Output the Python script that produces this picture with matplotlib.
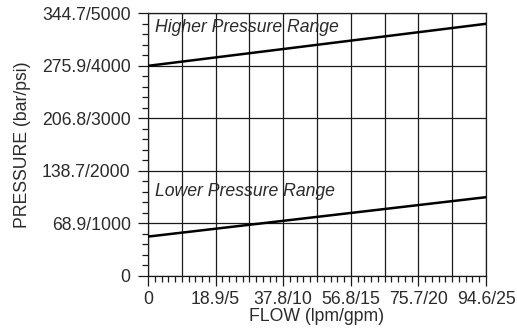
import matplotlib
matplotlib.use("Agg")
import matplotlib.pyplot as plt
import numpy as np

# Data (flow in gpm, pressure in psi)
flow_gpm = [0, 25]
higher_psi = [4000, 4800]
lower_psi = [750, 1500]

x_ticks = [0, 5, 10, 15, 20, 25]
x_ticklabels = ["0", "18.9/5", "37.8/10", "56.8/15", "75.7/20", "94.6/25"]
y_ticks = [0, 1000, 2000, 3000, 4000, 5000]
y_ticklabels = ["0", "68.9/1000", "138.7/2000", "206.8/3000", "275.9/4000", "344.7/5000"]

plt.rcParams['font.family'] = ['Liberation Sans', 'DejaVu Sans']
txt = '#2b2b2b'

fig = plt.figure(figsize=(5.17, 3.33), dpi=100)
ax = fig.add_axes([148/517, 1-276/333, (486-148)/517, (276-13.3)/333])

ax.set_xlim(0, 25)
ax.set_ylim(0, 5000)

ax.set_xticks(x_ticks)
ax.set_xticklabels(x_ticklabels)
ax.set_xticks(np.arange(0, 25.01, 0.5), minor=True)
ax.set_yticks(y_ticks)
ax.set_yticklabels(y_ticklabels)
ax.set_yticks(np.arange(0, 5001, 200), minor=True)

ax.grid(True, which='major', color='#1a1a1a', linewidth=0.9)
for xv in np.arange(2.5, 25, 5):
    ax.axvline(xv, color='#1a1a1a', linewidth=0.9, zorder=1)

ax.tick_params(axis='both', which='major', direction='out', length=7.5, width=0.9,
               color='#1a1a1a', labelsize=12.7, labelcolor=txt, pad=3)
ax.tick_params(axis='y', which='major', pad=5)
ax.tick_params(axis='both', which='minor', direction='out', length=4.5, width=0.9,
               color='#1a1a1a')
for s in ax.spines.values():
    s.set_color('#1a1a1a')
    s.set_linewidth(0.9)

ax.plot(flow_gpm, higher_psi, color='black', linewidth=1.8, zorder=3)
ax.plot(flow_gpm, lower_psi, color='black', linewidth=1.8, zorder=3)

ax.text(0.5, 4730, "Higher Pressure Range", fontsize=12.7, style='italic',
        color=txt, va='center', ha='left')
ax.text(0.5, 1600, "Lower Pressure Range", fontsize=12.7, style='italic',
        color=txt, va='center', ha='left')

ax.set_xlabel("FLOW (lpm/gpm)", fontsize=12.7, color=txt, labelpad=0)
ax.set_ylabel("PRESSURE (bar/psi)", fontsize=12.7, color=txt, labelpad=8)

fig.savefig("out.png", dpi=100)
